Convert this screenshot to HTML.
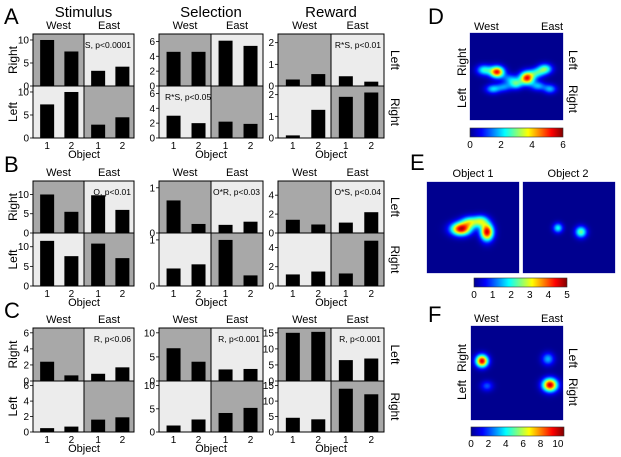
<!DOCTYPE html>
<html><head><meta charset="utf-8">
<style>
html,body{margin:0;padding:0;background:#fff;}
#wrap{position:relative;width:621px;height:457px;}
svg{display:block;font-family:"Liberation Sans",Arial,sans-serif;position:absolute;left:0;top:0;}
canvas{position:absolute;}
</style></head>
<body>
<div id="wrap">
<svg id="fig" width="621" height="457" viewBox="0 0 621 457" xmlns="http://www.w3.org/2000/svg">
<defs>
<linearGradient id="jet" x1="0" y1="0" x2="1" y2="0">
<stop offset="0" stop-color="#00008f"/><stop offset="0.125" stop-color="#0000ff"/>
<stop offset="0.375" stop-color="#00ffff"/><stop offset="0.625" stop-color="#ffff00"/>
<stop offset="0.875" stop-color="#ff0000"/><stop offset="1" stop-color="#800000"/>
</linearGradient>
</defs>
<g id="charts"></g>
<g id="heat"></g>
</svg>
</div>
<script>
const NS="http://www.w3.org/2000/svg";
// Bar data: per panel [topWest1, topWest2, topEast1, topEast2], [botWest1, botWest2, botEast1, botEast2]
const panelNames=["a-stimulus","a-selection","a-reward","b-stimulus","b-selection","b-reward","c-stimulus","c-selection","c-reward"];
const topValues=[[10,7.5,3.3,4.2],[4.6,4.6,6.1,5.4],[0.3,0.55,0.45,0.2],[10,5.5,9.8,6],[0.72,0.2,0.18,0.25],[1.4,0.9,1.1,2.2],[2.4,0.7,0.9,1.7],[6.8,4.0,2.4,2.5],[15,15.3,6.5,7]];
const bottomValues=[[7.3,10,2.9,4.5],[3.0,2.0,2.2,1.9],[0.12,1.3,1.9,2.1],[11.5,7.6,10.8,7.1],[0.38,0.47,1.0,0.23],[1.2,1.5,1.3,4.7],[0.5,0.7,1.6,1.9],[1.4,2.7,4.1,5.2],[4.6,4.1,14,12.2]];
const axisMax=[11.3,7,2.4,13.5,1.15,5.5,6.6,11,16.5];
const tickLabels=[[0,5,10],[0,2,4,6],[0,1,2],[0,5,10],[0,1],[0,2,4],[0,2,4,6],[0,5,10],[0,5,10,15]];
const statLabels=["S, p<0.0001","","R*S, p<0.01","O, p<0.01","O*R, p<0.03","O*S, p<0.04","R, p<0.06","R, p<0.001","R, p<0.001"];
const statBottom=["","R*S, p<0.05","","","","","","",""];
const objectCats=["1","2","1","2"];

const colX=[[33,134],[159,263],[278,384]];
const rowY=[[34,86,138],[181,233,286],[328,381,432]];
const g=document.getElementById('charts');
function el(tag,attrs,parent,text){const e=document.createElementNS(NS,tag);for(const k in attrs)e.setAttribute(k,attrs[k]);if(text!==undefined)e.textContent=text;(parent||g).appendChild(e);return e;}

[["A",4,24],["B",4,172],["C",4,318],["D",428,24],["E",410,170],["F",428,322]].forEach(l=>{
 const t=el('text',{x:l[1],y:l[2],'font-size':22},g,l[0]);
 
 
});
["Stimulus","Selection","Reward"].forEach((s,i)=>{
 const t=el('text',{x:(colX[i][0]+colX[i][1])/2,y:17,'font-size':15,'text-anchor':'middle'},g,s);
 
 
});

for(let p=0;p<9;p++){
 const r=Math.floor(p/3),c=p%3;
 const [x0,x1]=colX[c];const [y0,ym,y1]=rowY[r];
 const xm=Math.round((x0+x1)/2);
 const pg=el('g',{});
 
 
 const shades=[[x0,y0,xm-x0,ym-y0,'#a8a8a8'],[xm,y0,x1-xm,ym-y0,'#ececec'],[x0,ym,xm-x0,y1-ym,'#ececec'],[xm,ym,x1-xm,y1-ym,'#a8a8a8']];
 shades.forEach(s=>{const q=el('rect',{x:s[0],y:s[1],width:s[2],height:s[3],fill:s[4]},pg);
  });
 const halves=[[y0,ym,topValues[p],'top'],[ym,y1,bottomValues[p],'bottom']];
 halves.forEach(h=>{
  const [ha,hb,vals,nm]=h;
  const ys=v=>hb-(v/axisMax[p])*(hb-ha);
  const hw=(x1-x0)/2;
  vals.forEach((v,i)=>{
   const qx=i<2?x0:xm;
   const cx=qx+(i%2===0?hw*0.28:hw*0.76);
   const b=el('rect',{x:cx-7,y:ys(v),width:14,height:hb-ys(v),fill:'#000'},pg);
   
   
  });
  tickLabels[p].forEach(t=>{
   const y=ys(t);
   el('line',{x1:x0-3,x2:x0,y1:y,y2:y,stroke:'#000','stroke-width':0.8},pg);
   const tl=el('text',{x:x0-4,y:y+3.5,'font-size':10,'text-anchor':'end'},pg,String(t));
   
  });
 });
 el('rect',{x:x0,y:y0,width:x1-x0,height:y1-y0,fill:'none',stroke:'#000','stroke-width':1},pg);
 el('line',{x1:x0,x2:x1,y1:ym,y2:ym,stroke:'#000','stroke-width':1},pg);
 el('line',{x1:xm,x2:xm,y1:y0,y2:y1,stroke:'#000','stroke-width':1},pg);
 const w=el('text',{x:(x0+xm)/2,y:y0-5,'font-size':11,'text-anchor':'middle'},pg,'West');
 
 const e=el('text',{x:(xm+x1)/2,y:y0-5,'font-size':11,'text-anchor':'middle'},pg,'East');
 
 const hw=(x1-x0)/2;
 objectCats.forEach((o,i)=>{
  const qx=i<2?x0:xm;const cx=qx+(i%2===0?hw*0.28:hw*0.76);
  const t=el('text',{x:cx,y:y1+11,'font-size':10,'text-anchor':'middle'},pg,o);
  
 });
 const ol=el('text',{x:xm,y:y1+20,'font-size':11,'text-anchor':'middle'},pg,'Object');
 
 if(statLabels[p]){const s=el('text',{x:x1-3,y:y0+14,'font-size':8.5,'text-anchor':'end'},pg,statLabels[p]);
  }
 if(statBottom[p]){const s=el('text',{x:x0+6,y:ym+14,'font-size':8.5},pg,statBottom[p]);
  }
 if(c===0){
  [["Right",(y0+ym)/2],["Left",(ym+y1)/2]].forEach(a=>{
   const t=el('text',{x:0,y:0,'font-size':12,'text-anchor':'middle',transform:`translate(${x0-16},${a[1]}) rotate(-90)`},pg,a[0]);
   
  });
 }
 if(c===2){
  [["Left",(y0+ym)/2],["Right",(ym+y1)/2]].forEach(a=>{
   const t=el('text',{x:0,y:0,'font-size':12,'text-anchor':'middle',transform:`translate(${x1+7},${a[1]}) rotate(90)`},pg,a[0]);
   
  });
 }
}

// Heatmaps: gaussian blobs [cx, cy, sigmaX, sigmaY, amplitude] in page pixels / value units
const blobsD=[[497,72,5,4,5.2],[527,78,5,4.5,5.2],[484,70,5,3.6,2.4],[545,69,5,3.6,2.8],[537,73,5,3.5,2],[510,79,5,3.5,1.5],[493,89,5,3.2,2],[504,87,5,3.2,1.5],[516,84,4.5,3.6,2.4],[538,86,5,3.2,1.8],[550,89,4.5,3.2,1.8]];
const blobsE1=[[461,229,7,4.5,4.6],[470,222,6,4,2.4],[481,221,5,4,2.2],[487,232,4.5,6,4.6]];
const blobsE2=[[558,228,3.4,3.4,1.9],[581,232,4,4,2.4]];
const blobsF=[[482,361,4.3,4.3,9.8],[548,359,4.3,4.3,3.2],[487,386,4.3,3.6,2.2],[550,385,5.2,4.6,10]];
const vmaxD=6, vmaxE=5, vmaxF=10.7;

const jetStops=[[0,[0,0,143]],[0.125,[0,0,255]],[0.375,[0,255,255]],[0.625,[255,255,0]],[0.875,[255,0,0]],[1,[128,0,0]]];
function jetRGB(t){t=Math.max(0,Math.min(1,t));for(let i=1;i<jetStops.length;i++){if(t<=jetStops[i][0]){const [a,ca]=jetStops[i-1],[b,cb]=jetStops[i];const f=(t-a)/(b-a);return ca.map((v,k)=>Math.round(v+(cb[k]-v)*f));}}return [128,0,0];}
const wrap=document.getElementById('wrap');
const hg=document.getElementById('heat');
function heatSquare(x,y,w,h,blobs,vmax,name){
 const cv=document.createElement('canvas');
 cv.width=w;cv.height=h;cv.style.left=x+'px';cv.style.top=y+'px';
 
 
 wrap.appendChild(cv);
 const ctx=cv.getContext('2d');const img=ctx.createImageData(w,h);
 for(let j=0;j<h;j++)for(let i=0;i<w;i++){
  const px=x+i+0.5,py=y+j+0.5;let v=0;
  blobs.forEach(b=>{const dx=(px-b[0])/b[2],dy=(py-b[1])/b[3];v+=b[4]*Math.exp(-0.5*(dx*dx+dy*dy));});
  const c=jetRGB(v/vmax);const k=(j*w+i)*4;
  img.data[k]=c[0];img.data[k+1]=c[1];img.data[k+2]=c[2];img.data[k+3]=255;
 }
 ctx.putImageData(img,0,0);
 const r=el('rect',{x:x,y:y,width:w,height:h,fill:'none',stroke:'#6a6acc','stroke-width':0.5},hg);
 
}
function colorbar(x,y,w,ticks,max,name){
 const grp=document.createElementNS(NS,'g');hg.appendChild(grp);
 
 
 el('rect',{x,y,width:w,height:9,fill:'url(#jet)',stroke:'#333','stroke-width':0.6},grp);
 ticks.forEach(t=>{const tx=x+t/max*w;
  const tl=el('text',{x:tx,y:y+20,'font-size':10,'text-anchor':'middle'},grp,String(t));
  });
}
function txt(x,y,s,name,opts){const t=el('text',Object.assign({x,y,'font-size':11},opts||{}),hg,s);return t;}
function vtxt(x,y,s,rot,name){const t=el('text',{x:0,y:0,'font-size':12,'text-anchor':'middle',transform:`translate(${x},${y}) rotate(${rot})`},hg,s);}

heatSquare(470,33,93,87,blobsD,vmaxD,'heatmap-d');
txt(474,30,'West','d-west-label');txt(541,30,'East','d-east-label');
vtxt(466,62,'Right',-90,'d-left-right');vtxt(466,98,'Left',-90,'d-left-left');
vtxt(569,60,'Left',90,'d-right-left');vtxt(569,99,'Right',90,'d-right-right');
colorbar(470,128,93,[0,2,4,6],6,'colorbar-d');

heatSquare(427,182,92,91,blobsE1,vmaxE,'heatmap-e-object1');
heatSquare(523,182,92,91,blobsE2,vmaxE,'heatmap-e-object2');
txt(473,177,'Object 1','e-object1-label',{'text-anchor':'middle'});
txt(568,177,'Object 2','e-object2-label',{'text-anchor':'middle'});
colorbar(474,278,93,[0,1,2,3,4,5],5,'colorbar-e');

heatSquare(471,326,92,94,blobsF,vmaxF,'heatmap-f');
txt(474,322,'West','f-west-label');txt(541,322,'East','f-east-label');
vtxt(466,358,'Right',-90,'f-left-right');vtxt(466,390,'Left',-90,'f-left-left');
vtxt(569,358,'Left',90,'f-right-left');vtxt(569,392,'Right',90,'f-right-right');
colorbar(471,427,93,[0,2,4,6,8,10],10.7,'colorbar-f');
</script>
</body></html>
